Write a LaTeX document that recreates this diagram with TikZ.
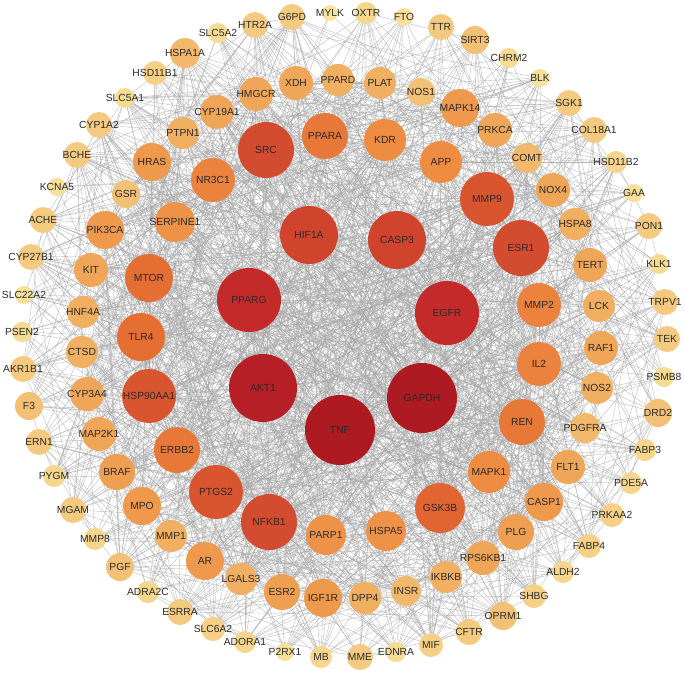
\documentclass[tikz,border=0pt]{standalone}
\usepackage{fontspec}
\setmainfont{Liberation Sans}
\usetikzlibrary{backgrounds}
\definecolor{cA}{HTML}{F8E6A0}
\definecolor{cB}{HTML}{F4CA80}
\definecolor{cC}{HTML}{F0A658}
\definecolor{cD}{HTML}{EE8C42}
\definecolor{cE}{HTML}{E56E33}
\definecolor{cF}{HTML}{D44C2F}
\definecolor{cG}{HTML}{C42A2A}
\definecolor{cH}{HTML}{AD1A22}
\definecolor{txt}{HTML}{2A2A2A}
\tikzset{
  gene/.style={circle, inner sep=0pt, draw=none},
  glabel/.style={inner sep=0pt, text=txt, font=\fontsize{10.3}{12}\selectfont},
  link/.style={draw=black!35, line width=0.35pt, opacity=0.8}
}
\def\genes{TNF/340/430/35, GAPDH/422/398/35, AKT1/263/388/34, PPARG/249/300/32, EGFR/447/313/32, HIF1A/309/235/29, CASP3/397/240/29,
SRC/266/150/28, PPARA/325/136/23, KDR/385/140/21, APP/441/162/21, MMP9/487/199/27, ESR1/521/248/28, MMP2/539/305/22, IL2/539/364/22, REN/522/422/23, MAPK1/489/472/21, GSK3B/440/508/25, HSPA5/386/531/20, PARP1/326/535/20, NFKB1/269/522/28, PTGS2/216/492/27, ERBB2/177/450/23, HSP90AA1/149/396/27, TLR4/141/337/24, MTOR/149/278/24, SERPINE1/175/222/20, NR3C1/213/180/22,
HMGCR/256/94/17, XDH/296/83/17, PPARD/338/80/16, PLAT/380/83/16, NOS1/421/92/14, MAPK14/460/108/19, PRKCA/495/130/17, COMT/527/158/15, NOX4/553/190/17, HSPA8/575/224/16, TERT/590/265/17, LCK/599/306/16, RAF1/601/348/17, NOS2/597/388/16, PDGFRA/585/428/15, FLT1/568/467/17, CASP1/544/502/19, PLG/516/532/18, RPS6KB1/483/558/17, IKBKB/446/577/16, INSR/406/591/15, DPP4/365/598/16, IGF1R/323/598/19, ESR2/282/592/18, LGALS3/241/579/16, AR/205/561/19, MMP1/171/536/16, MPO/142/506/19, BRAF/117/472/18, MAP2K1/99/434/17, CYP3A4/87/394/17, CTSD/82/352/16, HNF4A/83/312/16, KIT/91/270/17, PIK3CA/105/230/19, GSR/126/194/14, HRAS/152/162/19, PTPN1/183/133/16, CYP19A1/217/112/17,
SLC5A2/218/33/10, HTR2A/255/25/13, G6PD/292/17/13, MYLK/330/13/8, OXTR/366/13/11, FTO/404/17/9, TTR/441/27/13, SIRT3/475/40/14, CHRM2/509/58/10, BLK/540/78/9, SGK1/569/103/13, COL18A1/594/130/13, HSD11B2/616/162/11, GAA/634/193/9, PON1/649/226/13, KLK1/659/264/10, TRPV1/665/302/13, TEK/667/339/13, PSMB8/664/377/10, DRD2/658/413/14, FABP3/645/450/11, PDE5A/631/483/11, PRKAA2/612/515/12, FABP4/589/546/12, ALDH2/563/572/11, SHBG/534/596/12, OPRM1/503/616/14, CFTR/469/632/13, MIF/431/645/12, EDNRA/396/652/10, MME/360/657/13, MB/321/657/11, P2RX1/285/652/9, ADORA1/245/642/11, SLC6A2/213/629/12, ESRRA/180/612/13, ADRA2C/148/592/11, PGF/120/567/14, MMP8/95/539/11, MGAM/73/510/13, PYGM/54/476/11, ERN1/39/442/13, F3/29/406/14, AKR1B1/23/369/13, PSEN2/22/332/10, SLC22A2/24/295/9, CYP27B1/31/257/13, ACHE/43/220/13, KCNA5/57/187/9, BCHE/77/155/13, CYP1A2/99/125/13, SLC5A1/125/98/10, HSD11B1/155/73/12, HSPA1A/185/53/15}
\begin{document}
\begin{tikzpicture}[x=1pt,y=-1pt]
\useasboundingbox (0,0) rectangle (685,674);
% circles
\foreach \n/\x/\y/\r [count=\i] in \genes {
  \ifnum\r<13 \pgfmathsetmacro\p{(\r-8)/5*100}\colorlet{nc}{cB!\p!cA}%
  \else\ifnum\r<17 \pgfmathsetmacro\p{(\r-13)/4*100}\colorlet{nc}{cC!\p!cB}%
  \else\ifnum\r<21 \pgfmathsetmacro\p{(\r-17)/4*100}\colorlet{nc}{cD!\p!cC}%
  \else\ifnum\r<24 \pgfmathsetmacro\p{(\r-21)/3*100}\colorlet{nc}{cE!\p!cD}%
  \else\ifnum\r<28 \pgfmathsetmacro\p{(\r-24)/4*100}\colorlet{nc}{cF!\p!cE}%
  \else\ifnum\r<32 \pgfmathsetmacro\p{(\r-28)/4*100}\colorlet{nc}{cG!\p!cF}%
  \else \pgfmathsetmacro\p{(\r-32)/3*100}\colorlet{nc}{cH!\p!cG}%
  \fi\fi\fi\fi\fi\fi
  \pgfmathsetmacro\d{2*\r}
  \pgfmathsetmacro\ww{0.12+0.88*((\r-8)/27)^0.8}
  \expandafter\xdef\csname w\i\endcsname{\ww}
  \node[gene, fill=nc, minimum size=\d pt, alias=v\i] (\n) at (\x,\y) {};
}
% labels
\foreach \n/\x/\y/\r in \genes {
  \node[glabel] (l\n) at (\n) {\n};
}
% links
\begin{pgfonlayer}{background}
\pgfmathsetseed{4242}
\foreach \i in {2,...,121}{
  \pgfmathtruncatemacro\im{\i-1}
  \foreach \j in {1,...,\im}{
    \pgfmathrnd\let\u\pgfmathresult
    \pgfmathsetmacro\pp{\csname w\i\endcsname*\csname w\j\endcsname}
    \ifdim\u pt<\pp pt \draw[link] (v\i.center) -- (v\j.center);\fi
  }
}
\end{pgfonlayer}
\end{tikzpicture}
\end{document}
